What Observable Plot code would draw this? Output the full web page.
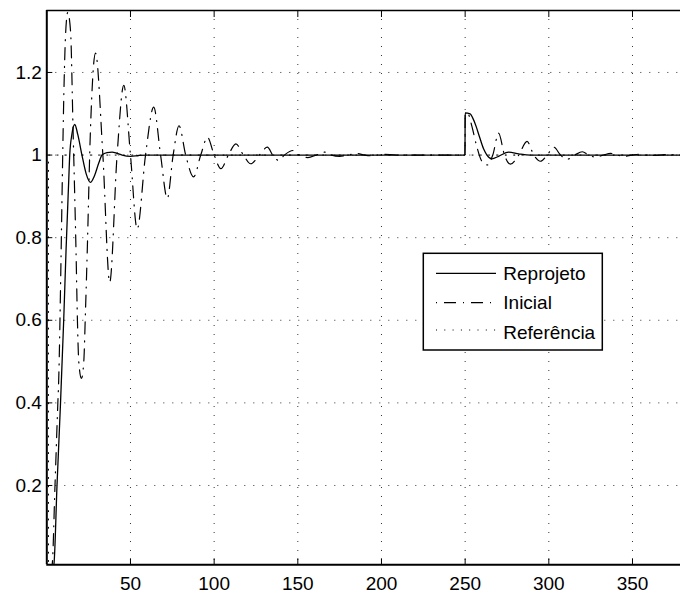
<!DOCTYPE html>
<html>
<head>
<meta charset="utf-8">
<script src="https://cdn.jsdelivr.net/npm/d3@7"></script>
<script src="https://cdn.jsdelivr.net/npm/@observablehq/plot@0.6"></script>
<style>
  html, body { margin: 0; padding: 0; background: #fff; }
  svg { display: block; }
</style>
</head>
<body>
<div id="chart"></div>
<script>
// ---- data ----
const xTicks = [50, 100, 150, 200, 250, 300, 350];
const yTicks = [0.2, 0.4, 0.6, 0.8, 1.0, 1.2];
const xDomain = [0, 380];
const yDomain = [0.008, 1.35];

const seriesNames = ["Reprojeto", "Inicial", "Referência"];

const reprojetoX = [0, 3, 4.2, 6.1, 8.2, 10.1, 11.5, 13.1, 13.7, 15, 16.7, 18.5, 21, 23.5, 26, 28.5, 31, 33, 36, 39, 42, 45, 50, 55, 60, 249.9, 250, 253, 254.5, 256.5, 258.5, 261, 263, 266, 270, 276, 282, 289, 380];
const reprojetoY = [0, 0, 0.008, 0.2, 0.4, 0.6, 0.769, 0.938, 1.0, 1.05, 1.074, 1.05, 1.0, 0.955, 0.934, 0.95, 0.98, 1.0, 1.006, 1.007, 1.004, 1.0, 0.997, 0.999, 1.0, 1.0, 1.102, 1.10, 1.09, 1.07, 1.045, 1.015, 1.0, 0.991, 0.997, 1.007, 1.003, 1.0, 1.0];

const inicialX = [0, 2.5, 3.2, 4.9, 6.6, 7.1, 8.5, 9.3, 10.2, 11.2, 12.5, 14.2, 15.7, 17.5, 18.3, 19.1, 20.7, 22.1, 23.1, 24.1, 26, 29.1, 33.5, 37.6, 42, 46, 50, 54, 59, 63.9, 68, 72, 75.5, 79, 83, 87.7, 92, 96, 100, 104, 108.5, 113, 117.5, 121.8, 127, 131.8, 135, 138.5, 142, 147, 151, 156, 161, 166, 170, 175, 180, 185, 190, 195, 200, 210, 249.9, 250, 252, 254, 257, 260, 263.3, 266.5, 270, 273.5, 277, 282, 287, 291, 295, 299, 303, 307, 311, 315.5, 320, 324, 328, 332.5, 337, 341, 345, 349.5, 354, 358, 362, 370, 380];
const inicialY = [0, 0, 0.008, 0.2, 0.4, 0.454, 0.75, 0.95, 1.15, 1.29, 1.345, 1.30, 1.06, 0.76, 0.6, 0.5, 0.459, 0.5, 0.62, 0.757, 1.05, 1.247, 1.0, 0.692, 1.0, 1.169, 1.0, 0.821, 1.0, 1.116, 1.0, 0.895, 1.0, 1.071, 1.0, 0.947, 1.0, 1.043, 1.0, 0.967, 1.0, 1.027, 1.0, 0.979, 1.0, 1.019, 1.0, 0.987, 1.0, 1.011, 1.0, 0.994, 1.0, 1.007, 1.0, 0.997, 1.0, 1.004, 1.0, 0.998, 1.002, 1.0, 1.0, 1.102, 1.098, 1.07, 1.02, 0.985, 0.976, 1.0, 1.053, 1.0, 0.978, 1.0, 1.033, 1.0, 0.985, 1.0, 1.019, 1.0, 0.99, 1.0, 1.008, 1.0, 0.995, 1.0, 1.004, 1.0, 0.997, 1.0, 1.002, 1.0, 0.999, 1.001, 1.0];

const referenciaX = [0, 1, 1, 380];
const referenciaY = [0, 0, 1, 1];

// ---- tables built from the arrays ----
const toRows = (xs, ys) => xs.map((x, i) => ({x, y: ys[i]}));
const reprojeto = toRows(reprojetoX, reprojetoY);
const inicial = toRows(inicialX, inicialY);
const referencia = toRows(referenciaX, referenciaY);

const fmt = d => String(+d.toFixed(2));
const gridStyle = {stroke: "#000", strokeOpacity: 0.8, strokeWidth: 1, strokeDasharray: "1,8"};

const chart = Plot.plot({
  width: 680,
  height: 597,
  marginLeft: 46.3,
  marginTop: 10,
  marginBottom: 32.7,
  marginRight: 0,
  style: {fontFamily: "'Liberation Sans', Arial, sans-serif", fontSize: "19px", color: "#000", background: "#fff"},
  x: {domain: xDomain, range: [46.3, 682.2]},
  y: {domain: yDomain, range: [564.3, 10]},
  marks: [
    Plot.ruleX(xTicks, gridStyle),
    Plot.ruleY(yTicks, gridStyle),
    Plot.line(referencia, {x: "x", y: "y", stroke: "#000", strokeWidth: 1, strokeDasharray: "1,7.3", clip: true}),
    Plot.line(inicial, {x: "x", y: "y", stroke: "#000", strokeWidth: 1.2, strokeDasharray: "12,7,1,7", curve: "monotone-x", clip: true}),
    Plot.line(reprojeto, {x: "x", y: "y", stroke: "#000", strokeWidth: 1.3, curve: "monotone-x", clip: true}),
    // frame
    Plot.ruleY([yDomain[0]], {stroke: "#000", strokeWidth: 2}),
    Plot.ruleY([yDomain[1]], {stroke: "#000", strokeWidth: 1.5}),
    Plot.ruleX([xDomain[0]], {stroke: "#000", strokeWidth: 2}),
    Plot.ruleX([xDomain[1]], {stroke: "#000", strokeWidth: 1.5}),
    // inward ticks
    Plot.axisX({ticks: xTicks, anchor: "bottom", tickSize: -6, text: null, label: null, stroke: "#000"}),
    Plot.axisX({ticks: xTicks, anchor: "top", tickSize: -6, text: null, label: null, stroke: "#000"}),
    Plot.axisY({ticks: yTicks, anchor: "left", tickSize: -6, text: null, label: null, stroke: "#000"}),
    // labels
    Plot.axisX({ticks: xTicks, anchor: "bottom", tickSize: 0, tickPadding: 12, tickFormat: fmt, label: null, fill: "#000"}),
    Plot.axisY({ticks: yTicks, anchor: "left", tickSize: 0, tickPadding: 5, tickFormat: fmt, label: null, fill: "#000"})
  ]
});

document.getElementById("chart").appendChild(chart);

// ---- legend box (inside the axes, as in the reference) ----
const svg = d3.select(chart);
const lg = svg.append("g").attr("font-family", "'Liberation Sans', Arial, sans-serif").attr("font-size", 19)
  .attr("text-anchor", "start");
lg.append("rect").attr("x", 423.3).attr("y", 253.3).attr("width", 179).attr("height", 96.7)
  .attr("fill", "#fff").attr("stroke", "#000").attr("stroke-width", 1.5);
const legendStyles = [
  {dash: null, w: 1.3},
  {dash: "12,7,1,7", w: 1.2, offset: 19},
  {dash: "1,7.3", w: 1}
];
const rowY = [273.3, 302.7, 330];
const baseY = [279.5, 308.7, 338.7];
seriesNames.forEach((name, i) => {
  const ln = lg.append("line").attr("x1", 436).attr("x2", 496).attr("y1", rowY[i]).attr("y2", rowY[i])
    .attr("stroke", "#000").attr("stroke-width", legendStyles[i].w);
  if (legendStyles[i].dash) ln.attr("stroke-dasharray", legendStyles[i].dash);
  if (legendStyles[i].offset) ln.attr("stroke-dashoffset", legendStyles[i].offset);
  lg.append("text").attr("x", 503.3).attr("y", baseY[i]).attr("fill", "#000")
    .attr("text-anchor", "start").text(name);
});
</script>
</body>
</html>
